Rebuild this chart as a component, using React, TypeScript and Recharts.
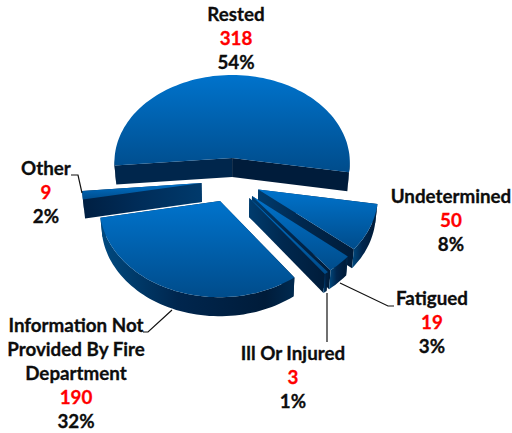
import { PieChart, Pie } from "recharts";

const categories = ["Rested", "Undetermined", "Fatigued", "Ill Or Injured", "Information Not Provided By Fire Department", "Other"];
const counts = [318, 50, 19, 3, 190, 9];
const labelLines = [["Rested"], ["Undetermined"], ["Fatigued"], ["Ill Or Injured"], ["Information Not", "Provided By Fire", "Department"], ["Other"]];

const rows = categories.map((name, i) => ({ name, value: counts[i] }));

// layout only
const labelX = [236, 451, 432, 293, 76, 46];
const labelY = [21, 203, 305, 360, 332, 175];
const leaders = [
  "",
  "",
  "M340 283L388 306H394",
  "M327 293V342",
  "M172 310L148 332H143",
  "M71 175H78L82 193",
];
const explode = [0.25, 0.25, 0.25, 0.25, 0.25, 0.25];

const DEPTH = 19;
const TILT = 0.75;
const PERSP = 0.05;
const LINE = 24;

type Pt = [number, number];

function project(cx: number, cy: number, R: number, ux: number, uy: number, low: boolean): Pt {
  const s = 1 / (1 - PERSP * uy);
  const shrink = low ? 0.985 : 1;
  return [cx + ux * R * s * shrink, cy + uy * R * TILT * s + (low ? DEPTH : 0)];
}

const toPath = (pts: Pt[]) =>
  "M" + pts.map((p) => p[0].toFixed(1) + " " + p[1].toFixed(1)).join("L") + "Z";

function Slice(props: any) {
  const { cx, cy, outerRadius: R, startAngle, endAngle, midAngle, index } = props;
  const rad = Math.PI / 180;
  const e = explode[index];
  const ox = e * Math.cos(midAngle * rad);
  const oy = -e * Math.sin(midAngle * rad);
  const at = (deg: number, r: number, low: boolean) =>
    project(cx, cy, R, ox + r * Math.cos(deg * rad), oy - r * Math.sin(deg * rad), low);

  const steps = Math.max(6, Math.ceil(Math.abs(endAngle - startAngle) / 2));
  const angles: number[] = [];
  for (let i = 0; i <= steps; i++) angles.push(startAngle + ((endAngle - startAngle) * i) / steps);

  const top: Pt[] = [at(0, 0, false), ...angles.map((a) => at(a, 1, false))];

  // runs of the rim that face the viewer
  const runs: number[][] = [];
  let run: number[] = [];
  angles.forEach((a) => {
    if (Math.sin(a * rad) <= 0.001) run.push(a);
    else {
      if (run.length > 1) runs.push(run);
      run = [];
    }
  });
  if (run.length > 1) runs.push(run);

  const wall = (a: number) => toPath([at(0, 0, false), at(a, 1, false), at(a, 1, true), at(0, 0, true)]);
  const rim = (r: number[]) =>
    toPath([...r.map((a) => at(a, 1, false)), ...[...r].reverse().map((a) => at(a, 1, true))]);

  const isOther = index === 5;
  return (
    <g>
      <defs>
        <linearGradient id={"top" + index} x1="0" y1="0" x2="0" y2="1">
          <stop offset="0" stopColor="#0073cc" />
          <stop offset="1" stopColor="#004c8b" />
        </linearGradient>
        <linearGradient id={"side" + index} x1="0" y1="0" x2="1" y2="0">
          <stop offset="0" stopColor={isOther ? "#001f42" : "#003c6e"} />
          <stop offset="0.45" stopColor={isOther ? "#002c58" : "#00284f"} />
          <stop offset="1" stopColor={isOther ? "#003a6c" : "#001c3a"} />
        </linearGradient>
        <linearGradient id={"rim" + index} x1="0" y1="0" x2="1" y2="0">
          <stop offset="0" stopColor="#004a80" />
          <stop offset="0.4" stopColor="#00264e" />
          <stop offset="0.85" stopColor="#001c3a" />
          <stop offset="1" stopColor="#002a50" />
        </linearGradient>
      </defs>
      <path d={wall(startAngle)} fill={index === 0 ? "#00264c" : `url(#side${index})`} />
      <path d={wall(endAngle)} fill={index === 0 ? "#001c3b" : `url(#side${index})`} />
      {runs.map((r, i) => (
        <path key={i} d={rim(r)} fill={index === 0 ? "#001f3f" : `url(#rim${index})`} />
      ))}
      <path d={toPath(top)} fill={`url(#top${index})`} />
    </g>
  );
}

function SliceLabel(props: any) {
  const { index, value, percent } = props;
  const x = labelX[index];
  const y = labelY[index];
  const lines = labelLines[index];
  return (
    <g style={{ fontFamily: "Lato, sans-serif", fontWeight: 700, fontSize: 18.8 }}>
      {leaders[index] && <path d={leaders[index]} fill="none" stroke="#111" strokeWidth={1.2} />}
      {lines.map((t: string, i: number) => (
        <text key={i} x={x} y={y + i * LINE} textAnchor="middle" fill="#0d0d0d" stroke="#0d0d0d" strokeWidth={0.3}>
          {t}
        </text>
      ))}
      <text x={x} y={y + lines.length * LINE} textAnchor="middle" fill="#ff0000" stroke="#ff0000" strokeWidth={0.3}>
        {value}
      </text>
      <text x={x} y={y + (lines.length + 1) * LINE} textAnchor="middle" fill="#0d0d0d" stroke="#0d0d0d" strokeWidth={0.3}>
        {Math.round(percent * 100)}%
      </text>
    </g>
  );
}

export default function App() {
  return (
    <div style={{ position: "absolute", left: 0, top: 0, width: 512, height: 433, background: "#fff" }}>
      <PieChart width={512} height={433} margin={{ top: 0, right: 0, bottom: 0, left: 0 }}>
        <Pie
          data={rows}
          dataKey="value"
          nameKey="name"
          cx={231}
          cy={180}
          outerRadius={119}
          startAngle={185}
          endAngle={-175}
          paddingAngle={0}
          stroke="none"
          shape={Slice}
          label={SliceLabel}
          labelLine={false}
          isAnimationActive={false}
        />
      </PieChart>
    </div>
  );
}
